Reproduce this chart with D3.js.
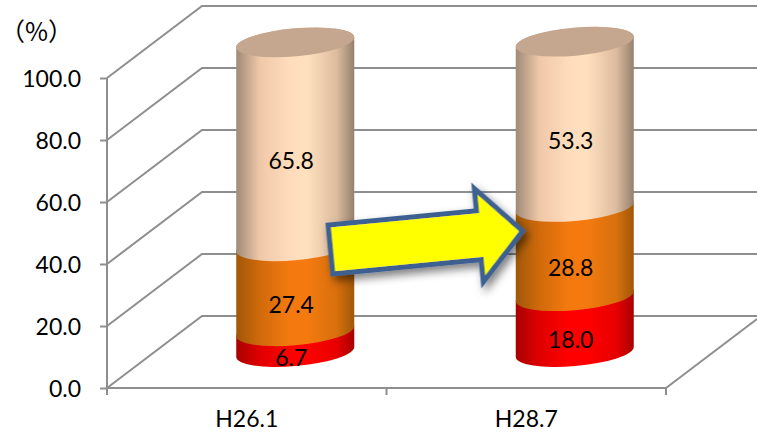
<!DOCTYPE html>
<html>
<head>
<meta charset="utf-8">
<script src="https://cdn.jsdelivr.net/npm/d3@7/dist/d3.min.js"></script>
<style>
html,body{margin:0;padding:0;background:#fff;}
svg{display:block;}
text{font-family:Lato,"Noto Sans",sans-serif;fill:#000;}
</style>
</head>
<body>
<svg id="chart" width="757" height="435"></svg>
<script>
// Survey periods and stacked shares (%)
const categories = ["H26.1", "H28.7"];
const seriesLow = [6.7, 18.0];
const seriesMid = [27.4, 28.8];
const seriesHigh = [65.8, 53.3];
const yTicks = [0, 20, 40, 60, 80, 100];

const svg = d3.select("#chart");
const defs = svg.append("defs");

// Oblique 3D box: the back wall sits up and to the right of the front plane
const depthX = 95, depthY = 72;
const x = d3.scaleBand().domain(categories).range([107, 666]);
const y = d3.scaleLinear().domain([0, 100]).range([388, 78]);

const gridColor = "#8e8e8e";

// Back wall lines and the side-wall lines that run to the front axis
const walls = svg.append("g").attr("fill", "none").attr("stroke", gridColor).attr("stroke-width", 2);
yTicks.forEach(t => {
  const path = d3.path();
  path.moveTo(107, y(t));
  path.lineTo(107 + depthX, y(t) - depthY);
  path.lineTo(757, y(t) - depthY);
  walls.append("path").attr("d", path.toString());
});
// Floor edge on the right side
walls.append("line").attr("x1", 666).attr("y1", y(0)).attr("x2", 757).attr("y2", y(0) - 69);

// Value axis
const yAxis = svg.append("g").attr("transform", "translate(107,0)")
  .call(d3.axisLeft(y).tickValues(yTicks).tickFormat(d3.format(".1f")).tickSize(7).tickPadding(19));
yAxis.select(".domain").attr("stroke", gridColor).attr("stroke-width", 2).attr("d", `M0,${y(100)}V395`);
yAxis.selectAll(".tick line").attr("stroke", gridColor).attr("stroke-width", 2);
yAxis.selectAll("text").attr("font-size", 23).attr("font-family", "Lato").attr("dy", "0.36em");

// Category axis
const xAxis = svg.append("g").attr("transform", `translate(0,${y(0)})`)
  .call(d3.axisBottom(x).tickSize(0).tickPadding(23));
xAxis.select(".domain").attr("stroke", gridColor).attr("stroke-width", 2).attr("d", "M107,0H666");
xAxis.selectAll("text").attr("font-size", 23).attr("font-family", "Lato");
[107, x(categories[1]), 666].forEach(px => {
  xAxis.append("line").attr("x1", px).attr("x2", px).attr("y1", 0).attr("y2", 7)
    .attr("stroke", gridColor).attr("stroke-width", 2);
});

// Unit caption
svg.append("text").attr("x", 0).attr("y", 41)
  .style("font-family", "'Noto Sans CJK JP'").attr("font-size", 25).text("（%）");

// Cylinder section colours, as edge-to-edge shading
const shades = [
  {id: "shadeLow",  stops: ["#a80000", "#e00000", "#ff0000", "#ff0000", "#e80000", "#a80000"]},
  {id: "shadeMid",  stops: ["#a05808", "#d06a0a", "#f47a10", "#f47a10", "#d8700c", "#a05808"]},
  {id: "shadeHigh", stops: ["#a08a78", "#efc8a8", "#ffdcbc", "#ffe0be", "#dcbc9e", "#96806e"]}
];
const stopOffsets = [0, 0.2, 0.45, 0.6, 0.85, 1];
shades.forEach(s => {
  const g = defs.append("linearGradient").attr("id", s.id);
  s.stops.forEach((c, i) => g.append("stop").attr("offset", stopOffsets[i]).attr("stop-color", c));
});

// Tilted ellipse used for every horizontal section of a cylinder
const rx = 59.2, ry = 14, tilt = -5.1;
const halfW = 59, edgeDy = 5;

function sectionPath(cx, yLow, yHigh) {
  const xl = cx - halfW, xr = cx + halfW;
  return `M${xl},${yHigh + edgeDy}` +
    `L${xl},${yLow + edgeDy}` +
    `A${rx},${ry} ${tilt} 0 0 ${xr},${yLow - edgeDy}` +
    `L${xr},${yHigh - edgeDy}` +
    `A${rx},${ry} ${tilt} 0 0 ${xl},${yHigh + edgeDy}Z`;
}

const cyl = svg.append("g");
const stacks = categories.map((c, i) => [seriesLow[i], seriesMid[i], seriesHigh[i]]);
const labelLayer = svg.append("g");

stacks.forEach((vals, i) => {
  const cx = x(categories[i]) + x.bandwidth() / 2 + depthX / 2 + 1;
  const planeY = v => y(v) - depthY / 2;
  let base = 0;
  vals.forEach((v, j) => {
    cyl.append("path")
      .attr("d", sectionPath(cx, planeY(base), planeY(base + v)))
      .attr("fill", `url(#${shades[j].id})`);
    labelLayer.append("text")
      .attr("x", cx - 4)
      .attr("y", planeY(base + v / 2) + 16)
      .attr("dy", "0.36em")
      .attr("text-anchor", "middle")
      .attr("font-size", 23)
      .text(d3.format(".1f")(v));
    base += v;
  });
  // Top cap
  cyl.append("ellipse")
    .attr("rx", rx).attr("ry", ry)
    .attr("transform", `translate(${cx},${planeY(base)}) rotate(${tilt})`)
    .attr("fill", "#c5a68e");
});

// Yellow callout arrow between the two columns
const shadow = defs.append("filter").attr("id", "arrowShadow")
  .attr("x", "-20%").attr("y", "-30%").attr("width", "140%").attr("height", "170%");
shadow.append("feDropShadow").attr("dx", 3).attr("dy", 5).attr("stdDeviation", 4)
  .attr("flood-color", "#000").attr("flood-opacity", 0.5);

const arrowLength = 193, shaftHalf = 24.5, headHalf = 47, headLength = 44;
const arrowShape = [
  [0, -shaftHalf], [arrowLength - headLength, -shaftHalf], [arrowLength - headLength, -headHalf],
  [arrowLength, 0], [arrowLength - headLength, headHalf], [arrowLength - headLength, shaftHalf], [0, shaftHalf]
];
svg.append("path")
  .attr("d", d3.line()(arrowShape) + "Z")
  .attr("transform", `translate(330.5,249.5) rotate(-5.5)`)
  .attr("fill", "#ffff00")
  .attr("stroke", "#3c6090")
  .attr("stroke-width", 5)
  .attr("stroke-linejoin", "miter")
  .attr("stroke-miterlimit", 10)
  .attr("filter", "url(#arrowShadow)");
</script>
</body>
</html>
